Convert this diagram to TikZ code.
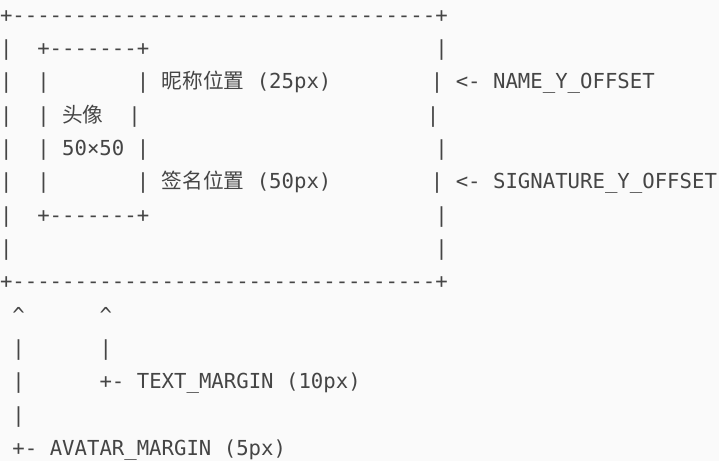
\documentclass[tikz,border=0pt]{standalone}
\usepackage{fontspec}
\setmonofont{DejaVu Sans Mono}
\newfontfamily\cjk{Noto Sans CJK SC}
\definecolor{txt}{HTML}{454545}
\definecolor{bg}{HTML}{FAFAFA}
\newcommand\gap[1]{\hskip#1\fontcharwd\font32\relax}
\newcommand\dashes[1]{\foreach \i in {1,...,#1}{-}}
\tikzset{
  asciiline/.style={anchor=base west, inner sep=0pt, outer sep=0pt,
    text=txt, font=\fontsize{20.66}{24}\selectfont\ttfamily}
}
\begin{document}
\begin{tikzpicture}[x=1pt,y=1pt]
\fill[bg] (0,0) rectangle (719,461);
\useasboundingbox (0,0) rectangle (719,461);
\def\lh{33.33}
\def\top{438.7}
\node[asciiline] (l1)  at (0,\top-0*\lh) {+\dashes{34}+};
\node[asciiline] (l2)  at (0,\top-1*\lh) {|\gap{2}+\dashes{7}+\gap{23}|};
\node[asciiline] (l3)  at (0,\top-2*\lh) {|\gap{2}|\gap{7}| {\cjk 昵称位置} (25px)\gap{8}| <- NAME\_Y\_OFFSET};
\node[asciiline] (l4)  at (0,\top-3*\lh) {|\gap{2}| {\cjk 头像}\gap{2}|\gap{23}|};
\node[asciiline] (l5)  at (0,\top-4*\lh) {|\gap{2}| 50×50 |\gap{23}|};
\node[asciiline] (l6)  at (0,\top-5*\lh) {|\gap{2}|\gap{7}| {\cjk 签名位置} (50px)\gap{8}| <- SIGNATURE\_Y\_OFFSET};
\node[asciiline] (l7)  at (0,\top-6*\lh) {|\gap{2}+\dashes{7}+\gap{23}|};
\node[asciiline] (l8)  at (0,\top-7*\lh) {|\gap{34}|};
\node[asciiline] (l9)  at (0,\top-8*\lh) {+\dashes{34}+};
\node[asciiline] (l10) at (0,\top-9*\lh) {\gap{1}\textasciicircum\gap{6}\textasciicircum};
\node[asciiline] (l11) at (0,\top-10*\lh) {\gap{1}|\gap{6}|};
\node[asciiline] (l12) at (0,\top-11*\lh) {\gap{1}|\gap{6}+- TEXT\_MARGIN (10px)};
\node[asciiline] (l13) at (0,\top-12*\lh) {\gap{1}|};
\node[asciiline] (l14) at (0,\top-13*\lh) {\gap{1}+- AVATAR\_MARGIN (5px)};
\end{tikzpicture}
\end{document}
